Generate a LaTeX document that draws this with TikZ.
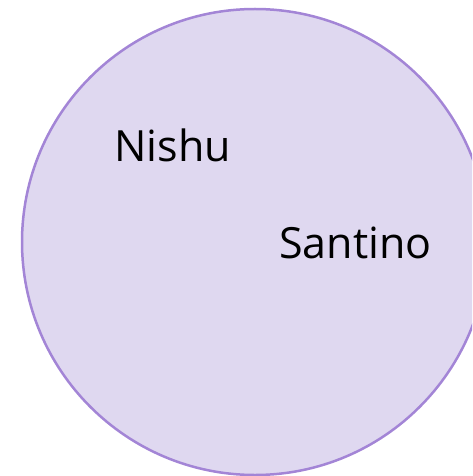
\documentclass[tikz,border=0pt]{standalone}
\usepackage{fontspec}
\setmainfont{Open Sans}
\definecolor{cfill}{HTML}{DFD8F0}
\definecolor{cline}{HTML}{A385D6}
\begin{document}
\begin{tikzpicture}[x=1pt,y=-1pt,
  lbl/.style={font=\fontsize{43}{50}\selectfont, text=black, inner sep=0pt}]
\useasboundingbox (0,0) rectangle (472,476);
\begin{scope}
\clip (0,0) rectangle (472,476);
\node[circle, minimum size=466pt, fill=cfill, draw=cline, line width=2.5pt, inner sep=0pt] (set) at (255,242) {};
\end{scope}
\node[lbl] (nishu) at (172.5,145) {Nishu};
\node[lbl] (santino) at (355.5,243) {Santino};
\end{tikzpicture}
\end{document}
